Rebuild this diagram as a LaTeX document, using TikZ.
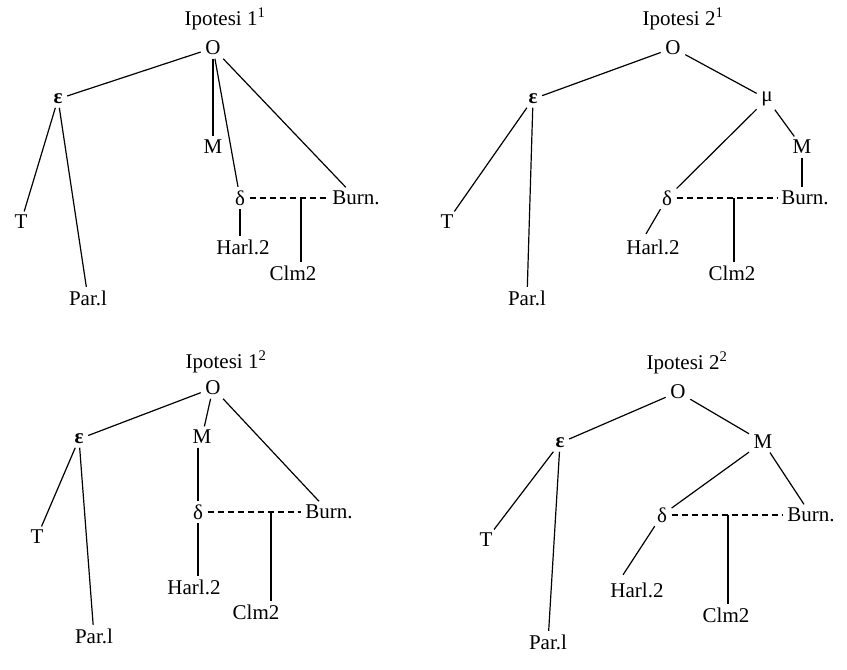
\documentclass[tikz,border=0pt]{standalone}
\usepackage{fontspec}
\setmainfont{Liberation Serif}
\usetikzlibrary{positioning}

\begin{document}
\begin{tikzpicture}[
		x=1bp, y=-1bp,
		witness/.style={font=\fontsize{21bp}{25bp}\selectfont, inner xsep=4.5bp, inner ysep=3.5bp},
		stemma/.style={line width=1.2bp},
		contam/.style={line width=1.1bp, dash pattern=on 6bp off 4bp},
	]
		\useasboundingbox (0,0) rectangle (847,670);

		\begin{scope}
			\node (title1) [witness] at (225,19) {Ipotesi 1\textsuperscript{1}};
			\node (O1) [witness] at (213,48) {O};
			\node (eps1) [witness] at (58,99) {\textbf{ε}};
			\node (T1) [witness] at (21,222) {T};
			\node (par1) [witness] at (88,298) {Par.l};
			\node (M1) [witness] at (213,147) {M};
			\node (d1) [witness] at (240,198) {δ};
			\node (burn1) [witness] at (356,198) {Burn.};
			\node (harl1) [witness] at (243,247) {Harl.2};
			\node (clm1) [witness] at (293,273) {Clm2};
			\coordinate (j1) at (301,198);

			\draw[stemma] (O1) -- (eps1);
			\draw[stemma] (O1) -- (M1);
			\draw[stemma] (O1) -- (d1);
			\draw[stemma] (O1) -- (burn1);
			\draw[stemma] (eps1) -- (T1);
			\draw[stemma] (eps1) -- (par1);
			\draw[stemma] (d1) -- (d1|-harl1.north);
			\draw[contam] (d1) -- (burn1);
			\draw[stemma] (j1) -- (j1|-clm1.north);
		\end{scope}

		\begin{scope}
			\node (title2) [witness] at (683,19) {Ipotesi 2\textsuperscript{1}};
			\node (O2) [witness] at (673,48) {O};
			\node (eps2) [witness] at (533,99) {\textbf{ε}};
			\node (mu2) [witness] at (767,99) {μ};
			\node (M2) [witness] at (802,147) {M};
			\node (T2) [witness] at (447,222) {T};
			\node (par2) [witness] at (527,298) {Par.l};
			\node (d2) [witness] at (667,198) {δ};
			\node (burn2) [witness] at (805,198) {Burn.};
			\node (harl2) [witness] at (653,247) {Harl.2};
			\node (clm2) [witness] at (732,273) {Clm2};
			\coordinate (j2) at (734,198);

			\draw[stemma] (O2) -- (eps2);
			\draw[stemma] (O2) -- (mu2);
			\draw[stemma] (mu2) -- (d2);
			\draw[stemma] (mu2) -- (M2);
			\draw[stemma] (M2) -- (M2|-burn2.north);
			\draw[stemma] (eps2) -- (T2);
			\draw[stemma] (eps2) -- (par2);
			\draw[stemma] (d2) -- ([xshift=-7bp,yshift=2bp]harl2.north);
			\draw[contam] (d2) -- (burn2);
			\draw[stemma] (j2) -- (j2|-clm2.north);
		\end{scope}

		\begin{scope}
			\node (title3) [witness] at (226,362) {Ipotesi 1\textsuperscript{2}};
			\node (O3) [witness] at (213,388) {O};
			\node (eps3) [witness] at (79,439) {\textbf{ε}};
			\node (M3) [witness] at (202,437) {M};
			\node (T3) [witness] at (37,537) {T};
			\node (par3) [witness] at (94,636) {Par.l};
			\node (d3) [witness] at (198,512) {δ};
			\node (burn3) [witness] at (329,512) {Burn.};
			\node (harl3) [witness] at (194,587) {Harl.2};
			\node (clm3) [witness] at (256,612) {Clm2};
			\coordinate (j3) at (271,512);

			\draw[stemma] (O3) -- (eps3);
			\draw[stemma] (O3) -- (M3);
			\draw[stemma] (O3) -- (burn3);
			\draw[stemma] (d3|-M3.south) -- (d3);
			\draw[stemma] (eps3) -- (T3);
			\draw[stemma] (eps3) -- (par3);
			\draw[stemma] (d3) -- (d3|-harl3.north);
			\draw[contam] (d3) -- (burn3);
			\draw[stemma] (j3) -- (j3|-clm3.north);
		\end{scope}

		\begin{scope}
			\node (title4) [witness] at (687,363) {Ipotesi 2\textsuperscript{2}};
			\node (O4) [witness] at (678,392) {O};
			\node (eps4) [witness] at (560,443) {\textbf{ε}};
			\node (M4) [witness] at (763,442) {M};
			\node (T4) [witness] at (486,540) {T};
			\node (par4) [witness] at (548,642) {Par.l};
			\node (d4) [witness] at (662,515) {δ};
			\node (burn4) [witness] at (811,515) {Burn.};
			\node (harl4) [witness] at (637,590) {Harl.2};
			\node (clm4) [witness] at (726,615) {Clm2};
			\coordinate (j4) at (728,515);

			\draw[stemma] (O4) -- (eps4);
			\draw[stemma] (O4) -- (M4);
			\draw[stemma] (M4) -- (d4);
			\draw[stemma] (M4) -- (burn4);
			\draw[stemma] (eps4) -- (T4);
			\draw[stemma] (eps4) -- (par4);
			\draw[stemma] (d4) -- ([xshift=-14bp,yshift=4bp]harl4.north);
			\draw[contam] (d4) -- (burn4);
			\draw[stemma] (j4) -- (j4|-clm4.north);
		\end{scope}
	\end{tikzpicture}
\end{document}
